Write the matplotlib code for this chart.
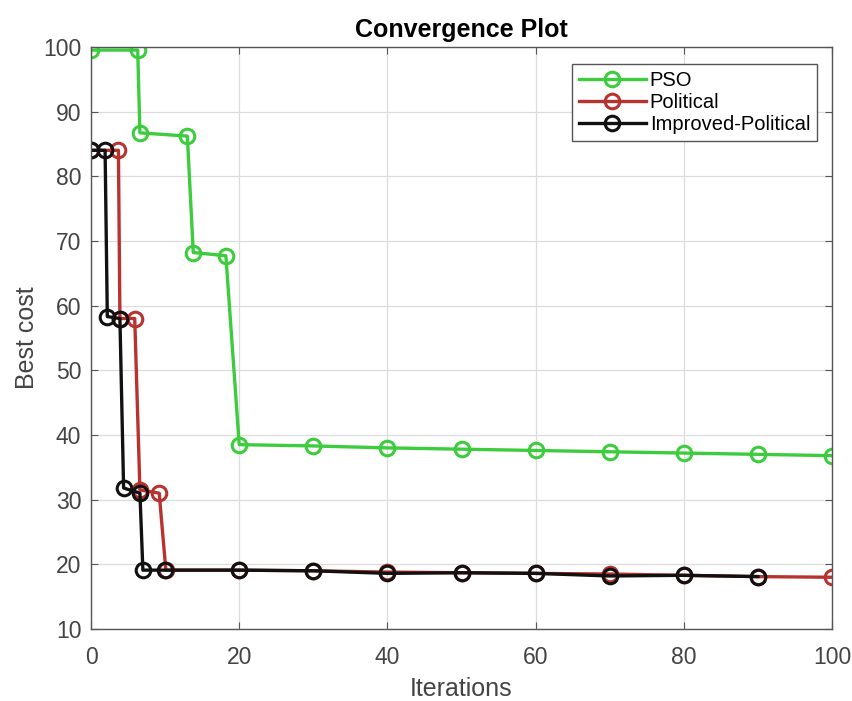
import matplotlib
matplotlib.use("Agg")
import matplotlib.pyplot as plt

plt.rcParams['font.family'] = ['Liberation Sans', 'DejaVu Sans']

# Iterations and best cost for each optimiser
pso_iter = [0, 6.3, 6.6, 13.0, 13.8, 18.2, 20, 30, 40, 50, 60, 70, 80, 90, 100]
pso_cost = [99.5, 99.5, 86.7, 86.2, 68.2, 67.7, 38.5, 38.3, 38.0, 37.8, 37.6, 37.4, 37.2, 37.0, 36.8]

pol_iter = [0, 3.7, 3.9, 5.9, 6.6, 9.2, 10.1, 20, 30, 40, 50, 60, 70, 80, 90, 100]
pol_cost = [84.0, 84.0, 58.0, 58.0, 31.5, 31.0, 19.1, 19.1, 19.0, 18.8, 18.7, 18.6, 18.5, 18.3, 18.1, 18.0]

imp_iter = [0, 1.9, 2.2, 3.9, 4.4, 6.6, 7.0, 10, 20, 30, 40, 50, 60, 70, 80, 90]
imp_cost = [84.0, 84.0, 58.3, 58.0, 31.8, 31.0, 19.1, 19.1, 19.1, 19.0, 18.6, 18.7, 18.6, 18.2, 18.3, 18.1]

x_ticks = [0, 20, 40, 60, 80, 100]
y_ticks = [10, 20, 30, 40, 50, 60, 70, 80, 90, 100]

fig = plt.figure(figsize=(8.53, 7.01), dpi=100)
ax = fig.add_axes([0.1067, 0.1027, 0.8687, 0.8305])

style = dict(linewidth=2.4, marker='o', markersize=10.5, markerfacecolor='none',
             markeredgewidth=2.2)
ax.plot(pso_iter, pso_cost, color='#3dcc3d', label='PSO', **style)
ax.plot(pol_iter, pol_cost, color='#b8332f', label='Political', **style)
ax.plot(imp_iter, imp_cost, color='#111111', label='Improved-Political', **style)

ax.set_xlim(0, 100)
ax.set_ylim(10, 100)
ax.set_xticks(x_ticks)
ax.set_yticks(y_ticks)
ax.grid(True, color='#dcdcdc', linewidth=0.9)
ax.set_axisbelow(True)
for s in ax.spines.values():
    s.set_color('#555555')
    s.set_linewidth(1.0)
ax.tick_params(colors='#555555', labelcolor='#444444', labelsize=16.5,
               direction='in', length=5, top=True, right=True)
ax.tick_params(axis='y', pad=7)
ax.tick_params(axis='x', pad=12)

ax.set_xlabel('Iterations', fontsize=18, color='#444444', labelpad=6)
ax.set_ylabel('Best cost', fontsize=18, color='#444444', labelpad=3)
ax.set_title('Convergence Plot', fontsize=18, fontweight='bold', pad=7)

leg = ax.legend(loc='upper right', bbox_to_anchor=(0.98, 0.97), fontsize=14.5,
                fancybox=False, framealpha=1, edgecolor='#555555',
                handlelength=3.3, handletextpad=0.2, borderpad=0.35,
                labelspacing=0.15, borderaxespad=0)
leg.get_frame().set_linewidth(1.0)

fig.savefig('out.png', dpi=100)
